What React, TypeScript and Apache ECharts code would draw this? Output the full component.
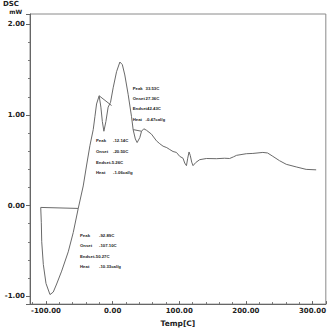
import React, { useEffect, useRef } from "react";
import * as echarts from "echarts";

// DSC curve: temperature (°C) and heat flow (mW)
const temps = [
  -107.9, -107.0, -106.4, -104.0, -100.0, -94.0, -89.1, -84.0, -76.5, -66.6,
  -59.1, -51.6, -44.1, -39.0, -34.1, -29.1, -26.6, -24.1, -20.2, -17.6,
  -15.4, -13.1, -10.1, -6.7, -3.1, 0.8, 5.9, 10.9, 14.6, 18.3,
  23.3, 28.4, 30.8, 34.1, 36.8, 40.8, 43.4, 46.8, 50.8, 58.3,
  65.8, 70.8, 75.7, 81.3, 85.8, 90.7, 95.8, 100.7, 105.7, 108.2,
  110.8, 112.7, 114.7, 116.5, 118.7, 120.7, 124.7, 130.7, 140.7, 155.7,
  168.1, 175.6, 181.6, 186.1, 200.7, 210.5, 225.5, 232.6, 240.5, 250.5,
  260.6, 275.6, 290.5, 305.5,
];
const heatFlow = [
  -0.021, -0.19, -0.4, -0.65, -0.86, -0.983, -0.955, -0.866, -0.724, -0.511,
  -0.298, -0.032, 0.216, 0.447, 0.66, 0.838, 0.98, 1.121, 1.211, 1.086,
  0.927, 0.82, 0.927, 1.086, 1.14, 1.299, 1.477, 1.584, 1.555, 1.441,
  1.228, 0.98, 0.838, 0.735, 0.695, 0.749, 0.82, 0.847, 0.831, 0.788,
  0.714, 0.682, 0.655, 0.639, 0.618, 0.596, 0.586, 0.543, 0.522, 0.469,
  0.44, 0.522, 0.591, 0.554, 0.479, 0.44, 0.474, 0.506, 0.519, 0.517,
  0.522, 0.519, 0.538, 0.554, 0.572, 0.575, 0.586, 0.58, 0.543, 0.495,
  0.455, 0.426, 0.399, 0.394,
];

// integration baselines
const base1T = [-107.9, -51.6];
const base1Y = [-0.021, -0.032];
const base2T = [-20.2, -1.6];
const base2Y = [1.211, 1.104];
const base3T = [30.8, 43.4];
const base3Y = [0.838, 0.82];

// peak annotations
const peakALabels = ["Peak", "Onset", "Endset42.43C", "Heat"];
const peakAValues = ["33.53C", "27.36C", "", "-0.47cal/g"];
const peakBLabels = ["Peak", "Onset", "Endset-5.26C", "Heat"];
const peakBValues = ["-12.14C", "-20.50C", "", "-1.06cal/g"];
const peakCLabels = ["Peak", "Onset", "Endset-50.27C", "Heat"];
const peakCValues = ["-92.89C", "-107.10C", "", "-10.33cal/g"];

const xMin = -124;
const xMax = 320;
const yMin = -1.088;
const yMax = 2.114;

const pairs = (xs: number[], ys: number[]) => xs.map((x, i) => [x, ys[i]]);

const annFont = "'Liberation Sans', Arial, sans-serif";

function annotationGroup(
  labels: string[],
  values: string[],
  x: number,
  valueX: number,
  rows: number[]
) {
  const els: any[] = [];
  labels.forEach((l, i) => {
    els.push({
      type: "text",
      x,
      y: rows[i],
      style: {
        text: l,
        fontSize: 4.3,
        fontWeight: "bold",
        fontFamily: annFont,
        fill: "#222",
        verticalAlign: "middle",
      },
    });
    if (values[i]) {
      els.push({
        type: "text",
        x: valueX,
        y: rows[i],
        style: {
          text: values[i],
          fontSize: 4.3,
          fontWeight: "bold",
          fontFamily: annFont,
          fill: "#222",
          verticalAlign: "middle",
        },
      });
    }
  });
  return els;
}

export default function App() {
  const ref = useRef<HTMLDivElement>(null);
  useEffect(() => {
    if (!ref.current) return;
    const chart = echarts.init(ref.current, undefined, { renderer: "svg" });
    const lineColor = "#6a6a6a";
    const axisFont = "'DejaVu Sans', Verdana, sans-serif";
    chart.setOption({
      animation: false,
      backgroundColor: "#ffffff",
      grid: {
        left: 30,
        top: 14,
        right: 3,
        bottom: 17,
        show: true,
        borderColor: "#8a8a8a",
        borderWidth: 1,
      },
      xAxis: {
        type: "value",
        min: xMin,
        max: xMax,
        splitNumber: 4,
        minInterval: 100,
        maxInterval: 100,
        splitLine: { show: false },
        axisLine: { show: true, onZero: false, lineStyle: { color: "#666", width: 1 } },
        axisTick: { show: true, inside: true, length: 3, lineStyle: { color: "#666" } },
        minorTick: { show: true, splitNumber: 5, length: 2, lineStyle: { color: "#777" } },
        axisLabel: {
          showMinLabel: false,
          showMaxLabel: false,
          margin: 3,
          fontSize: 7,
          fontWeight: "bold",
          fontFamily: axisFont,
          color: "#222",
          formatter: (v: number) => v.toFixed(2),
        },
        name: "Temp[C]",
        nameLocation: "middle",
        nameGap: 9,
        nameTextStyle: {
          fontSize: 7.5,
          fontWeight: "bold",
          fontFamily: axisFont,
          color: "#222",
        },
      },
      yAxis: {
        type: "value",
        min: yMin,
        max: yMax,
        splitNumber: 3,
        minInterval: 1,
        maxInterval: 1,
        splitLine: { show: false },
        axisLine: { show: true, onZero: false, lineStyle: { color: "#666", width: 1 } },
        axisTick: { show: true, inside: false, length: 4, lineStyle: { color: "#666" } },
        minorTick: { show: true, splitNumber: 5, length: 2, lineStyle: { color: "#777" } },
        axisLabel: {
          showMinLabel: false,
          showMaxLabel: false,
          margin: 5,
          fontSize: 7,
          fontWeight: "bold",
          fontFamily: axisFont,
          color: "#222",
          formatter: (v: number) => v.toFixed(2),
        },
      },
      series: [
        {
          type: "line",
          data: pairs(temps, heatFlow),
          symbol: "none",
          lineStyle: { color: lineColor, width: 1 },
        },
        {
          type: "line",
          data: pairs(base1T, base1Y),
          symbol: "none",
          lineStyle: { color: lineColor, width: 1 },
        },
        {
          type: "line",
          data: pairs(base2T, base2Y),
          symbol: "none",
          lineStyle: { color: lineColor, width: 1 },
        },
        {
          type: "line",
          data: pairs(base3T, base3Y),
          symbol: "none",
          lineStyle: { color: lineColor, width: 1 },
        },
      ],
      graphic: [
        {
          type: "text",
          x: 3,
          y: 4,
          style: {
            text: "DSC",
            fontSize: 7,
            fontWeight: "bold",
            fontFamily: axisFont,
            fill: "#222",
            verticalAlign: "middle",
          },
        },
        {
          type: "text",
          x: 22,
          y: 11.5,
          style: {
            text: "mW",
            fontSize: 6,
            fontWeight: "bold",
            fontFamily: axisFont,
            fill: "#222",
            align: "right",
            verticalAlign: "middle",
          },
        },
        ...annotationGroup(peakALabels, peakAValues, 132.7, 145.5, [88.3, 98.3, 108.5, 119]),
        ...annotationGroup(peakBLabels, peakBValues, 96, 113, [140.9, 151.7, 162.3, 172.7]),
        ...annotationGroup(peakCLabels, peakCValues, 80, 99, [235, 245.7, 256, 266.7]),
      ],
    });
    return () => chart.dispose();
  }, []);
  return (
    <div
      ref={ref}
      style={{ position: "fixed", left: 0, top: 0, width: 329, height: 332, background: "#fff" }}
    />
  );
}
